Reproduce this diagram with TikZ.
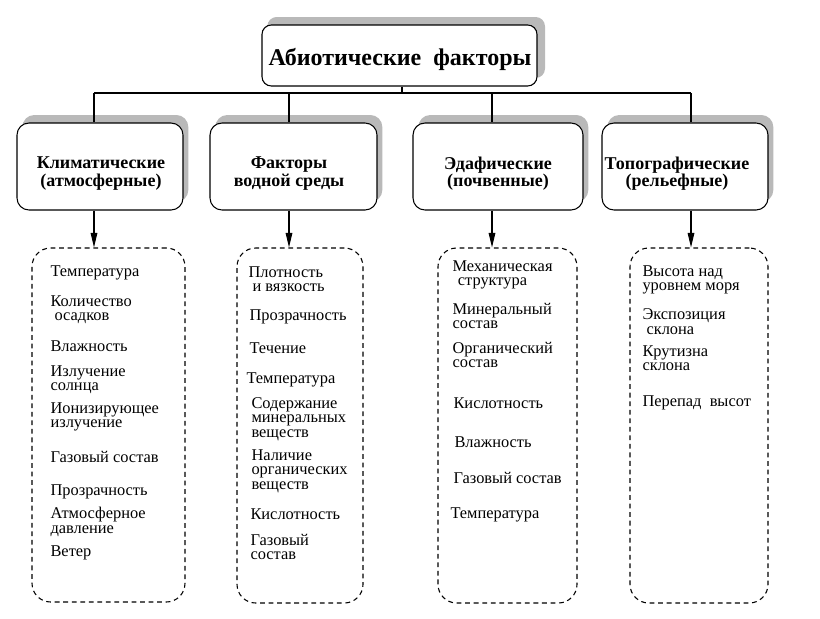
\documentclass[tikz,border=0pt]{standalone}
\usepackage{fontspec}
\setmainfont{Liberation Serif}
\newfontfamily\tnr{Liberation Serif}
\usetikzlibrary{shadows,arrows.meta}
\begin{document}
\begin{tikzpicture}[x=0.75pt,y=-0.75pt,
 line width=0.8pt,
 font=\tnr,
 solidbox/.style={draw, rounded corners=9pt, fill=white, general shadow={fill=gray!55, shadow xshift=4pt, shadow yshift=6pt}, inner sep=0pt},
 dbox/.style={draw, dash pattern=on 3.6pt off 2.8pt, rounded corners=14pt, inner sep=0pt},
 head/.style={font=\tnr\fontsize{13.5}{13}\selectfont\bfseries, align=center, inner sep=0pt},
 item/.style={font=\tnr\fontsize{12.3}{10.8}\selectfont, align=left, anchor=west, inner sep=0pt},
 arr/.style={-{Triangle[length=11pt,width=5pt]}}
]
\useasboundingbox (0,0) rectangle (820,618);

% title
\node[solidbox, rounded corners=7pt, general shadow={fill=gray!55, shadow xshift=6pt, shadow yshift=6pt}, minimum width=206.25pt, minimum height=45.75pt] (title) at (399.5,55.5) {};
\node[font=\tnr\fontsize{18}{20}\selectfont\bfseries, inner sep=0pt] (titlet) at (400,59) {Абиотические\ \ факторы};

% header boxes
\node[solidbox, minimum width=124.5pt, minimum height=65.25pt] (h1) at (100,166.5) {};
\node[solidbox, minimum width=125.25pt, minimum height=65.25pt] (h2) at (293.5,166.5) {};
\node[solidbox, minimum width=127.5pt, minimum height=65.25pt] (h3) at (498,166.5) {};
\node[solidbox, minimum width=124.5pt, minimum height=65.25pt] (h4) at (685,166.5) {};
\node[head] (h1t) at (101,173.5) {Климатические\\(атмосферные)};
\node[head] (h2t) at (289,173.5) {Факторы\\водной среды};
\node[head] (h3t) at (498,173.5) {Эдафические\\(почвенные)};
\node[head] (h4t) at (677,173.5) {Топографические\\(рельефные)};

% dashed boxes
\node[dbox, minimum width=114.75pt, minimum height=265.5pt] (d1) at (108.5,425) {};
\node[dbox, minimum width=94.5pt, minimum height=266.25pt] (d2) at (300,425.5) {};
\node[dbox, minimum width=104.25pt, minimum height=266.25pt] (d3) at (507.5,425.5) {};
\node[dbox, minimum width=103.5pt, minimum height=266.25pt] (d4) at (699,425.5) {};

% connectors
\coordinate (bt) at (402,93);
\coordinate (b1) at (94,93);
\coordinate (b2) at (289,93);
\coordinate (b3) at (492,93);
\coordinate (b4) at (691,93);
\draw (title.south -| bt) -- (bt);
\draw (b1) -- (b4);
\draw (b1) -- (b1 |- h1.north);
\draw (b2) -- (b2 |- h2.north);
\draw (b3) -- (b3 |- h3.north);
\draw (b4) -- (b4 |- h4.north);
\draw[arr] (b1 |- h1.south) -- (b1 |- d1.north);
\draw[arr] (b2 |- h2.south) -- (b2 |- d2.north);
\draw[arr] (b3 |- h3.south) -- (b3 |- d3.north);
\draw[arr] (b4 |- h4.south) -- (b4 |- d4.north);

% column 1
\node[item] (a1) at (50,273) {Температура};
\node[item] (a2) at (50,309.5) {Количество\\\hspace*{3pt}осадков};
\node[item] (a3) at (50,346) {Влажность};
\node[item] (a4) at (50,379.5) {Излучение\\солнца};
\node[item] (a5) at (50,417) {Ионизирующее\\излучение};
\node[item] (a6) at (50,457) {Газовый состав};
\node[item] (a7) at (50,492) {Прозрачность};
\node[item] (a8) at (50,522) {Атмосферное\\давление};
\node[item] (a9) at (50,553) {Ветер};

% column 2
\node[item] (w1) at (248,279.5) {Плотность\\\hspace*{3pt}и вязкость};
\node[item] (w2) at (249,317) {Прозрачность};
\node[item] (w3) at (249,348) {Течение};
\node[item] (w4) at (246,380) {Температура};
\node[item] (w5) at (251,419) {Содержание\\минеральных\\веществ};
\node[item] (w6) at (251,471) {Наличие\\органических\\веществ};
\node[item] (w7) at (250,514) {Кислотность};
\node[item] (w8) at (250,547) {Газовый\\состав};

% column 3
\node[item] (s1) at (452,275) {Механическая\\\hspace*{4pt}структура};
\node[item] (s2) at (452,316) {Минеральный\\состав};
\node[item] (s3) at (452,355) {Органический\\состав};
\node[item] (s4) at (453,403) {Кислотность};
\node[item] (s5) at (454,442) {Влажность};
\node[item] (s6) at (453,478) {Газовый состав};
\node[item] (s7) at (450,515) {Температура};

% column 4
\node[item] (t1) at (642,280) {Высота над\\уровнем моря};
\node[item] (t2) at (642,321.5) {Экспозиция\\\hspace*{3pt}склона};
\node[item] (t3) at (642,358) {Крутизна\\склона};
\node[item] (t4) at (642,403) {Перепад\ \ высот};
\end{tikzpicture}
\end{document}
